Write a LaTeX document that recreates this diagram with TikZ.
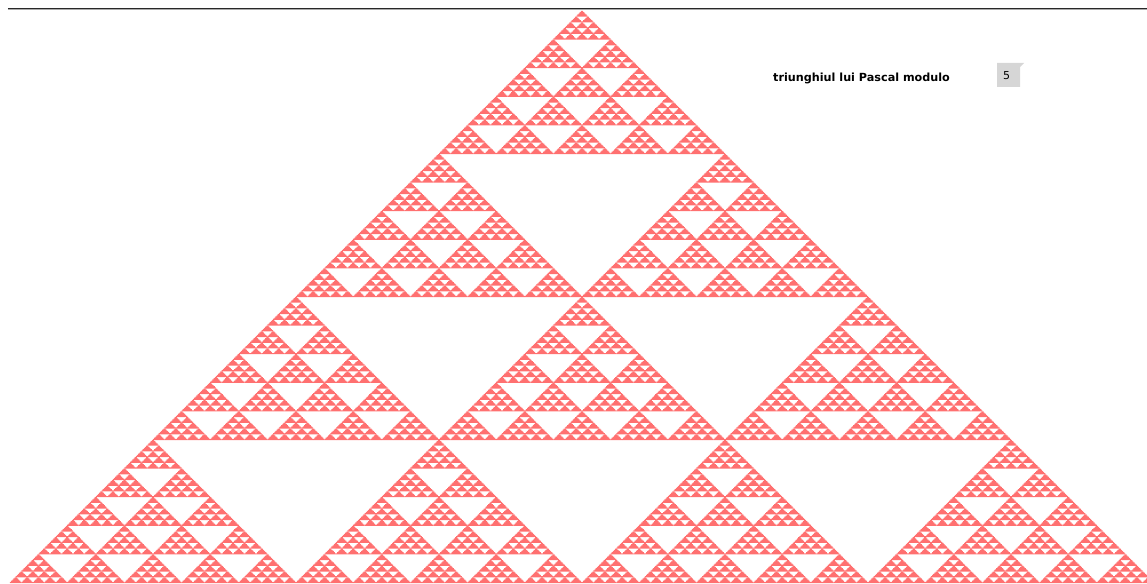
\documentclass[tikz,border=0pt]{standalone}
\usepackage{fontspec}
\setmainfont{DejaVu Sans}
\definecolor{cellred}{RGB}{255,112,112}
\definecolor{boxgray}{RGB}{214,214,214}
\definecolor{rulegray}{RGB}{40,40,40}
\definecolor{rulelight}{RGB}{170,170,170}
\tikzset{
  cellfill/.style={fill=cellred},
  titletext/.style={anchor=base west, inner sep=0pt, font=\bfseries\fontsize{11.2}{13}\selectfont},
  valtext/.style={anchor=base west, inner sep=0pt, font=\fontsize{11}{13}\selectfont}
}
\begin{document}
\begin{tikzpicture}[x=1.144pt,y=-1.144pt]
\useasboundingbox (-582pt,11pt) rectangle (565pt,-572pt);
\begin{scope}
\clip (-582pt,11pt) rectangle (565pt,-572pt);
\foreach \Ra in {0,...,3}{
 \foreach \Ca in {0,...,\Ra}{
  \begin{scope}[shift={(250*\Ca-125*\Ra,125*\Ra)}]
  \foreach \Rb in {0,...,4}{
   \foreach \Cb in {0,...,\Rb}{
    \begin{scope}[shift={(50*\Cb-25*\Rb,25*\Rb)}]
    \foreach \Rc in {0,...,4}{
     \foreach \Cc in {0,...,\Rc}{
      \fill[cellfill,shift={(10*\Cc-5*\Rc,5*\Rc)}] (-1,0) -- (1,0) -- (1,1) -- (2,1) -- (2,2) -- (3,2) -- (3,3) -- (4,3) -- (4,4) -- (5,4) -- (5,5) -- (-5,5) -- (-5,4) -- (-4,4) -- (-4,3) -- (-3,3) -- (-3,2) -- (-2,2) -- (-2,1) -- (-1,1) -- cycle;
     }}
    \end{scope}
   }}
  \end{scope}
 }}
\end{scope}
\draw[rulegray, line width=1.2pt] (-574pt,2.5pt) -- (565pt,2.5pt);
\draw[rulelight, line width=0.8pt] (-574pt,1.4pt) -- (565pt,1.4pt);
\node[titletext] (title) at (191pt,-70.5pt) {triunghiul lui Pascal modulo};
\fill[boxgray] (415pt,-52pt) -- (442pt,-52pt) -- (438pt,-56pt) -- (438pt,-76pt) -- (415pt,-76pt) -- cycle;
\node[valtext] (modval) at (421pt,-69pt) {5};
\end{tikzpicture}
\end{document}
